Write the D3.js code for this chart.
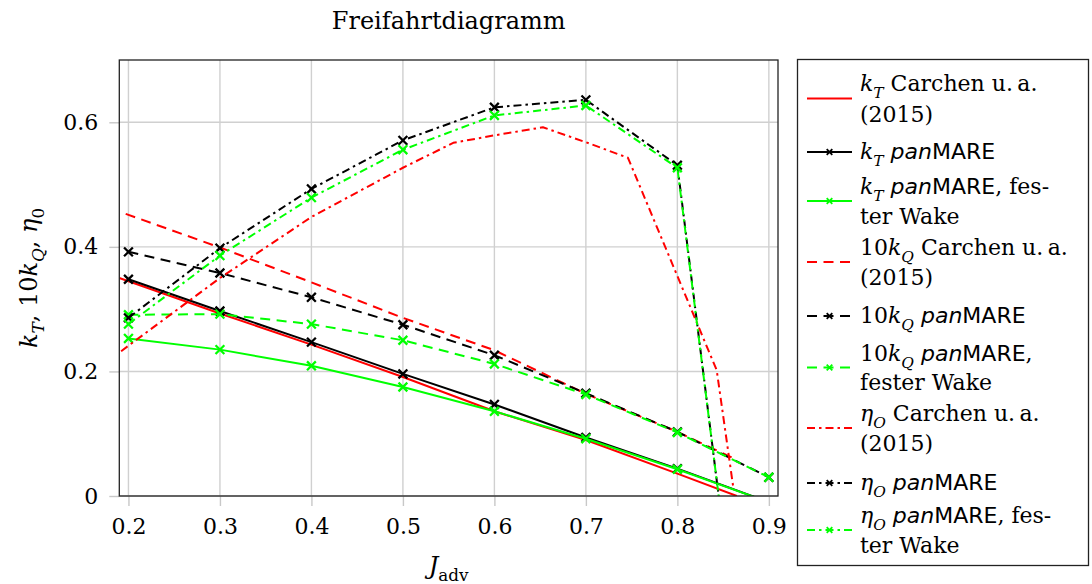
<!DOCTYPE html>
<html>
<head>
<meta charset="utf-8">
<script src="https://cdn.jsdelivr.net/npm/d3@7"></script>
<style>
  body { margin: 0; background: #fff; }
  svg { display: block; }
  .tick text { font-family: "DejaVu Serif", serif; font-size: 22px; fill: #000; }
</style>
</head>
<body>
<svg id="chart" width="1092" height="584"></svg>
<script>
// J values of the panMARE runs
var jPan = [0.2, 0.3, 0.4, 0.5, 0.6, 0.7, 0.8, 0.9];
var ktPan      = [0.348, 0.297, 0.247, 0.196, 0.147, 0.094, 0.044, -0.010];
var ktPanFix   = [0.253, 0.235, 0.209, 0.175, 0.136, 0.092, 0.043, -0.010];
var kqPan      = [0.392, 0.358, 0.319, 0.275, 0.226, 0.165, 0.103, 0.030];
var kqPanFix   = [0.291, 0.292, 0.276, 0.250, 0.212, 0.163, 0.102, 0.030];
var etaPan     = [0.286, 0.398, 0.493, 0.571, 0.624, 0.636, 0.531, -0.645];
var etaPanFix  = [0.276, 0.386, 0.479, 0.556, 0.611, 0.627, 0.527, -0.640];

// Carchen u. a. (2015)
var jKtCarchen  = [0.19, 0.3, 0.4, 0.5, 0.6, 0.7, 0.8, 0.865];
var ktCarchen   = [0.350, 0.293, 0.243, 0.191, 0.136, 0.090, 0.036, 0.0];
var jKqCarchen  = [0.197, 0.3, 0.4, 0.5, 0.6, 0.7, 0.8, 0.865];
var kqCarchen   = [0.453, 0.399, 0.343, 0.286, 0.234, 0.164, 0.103, 0.058];
var jEtaCarchen = [0.192, 0.3, 0.4, 0.5, 0.555, 0.6, 0.653, 0.7, 0.746, 0.843, 0.861];
var etaCarchen  = [0.2325, 0.350, 0.448, 0.527, 0.567, 0.579, 0.592, 0.568, 0.543, 0.202, 0.015];

var xTicks = [0.2, 0.3, 0.4, 0.5, 0.6, 0.7, 0.8, 0.9];
var yTicks = [0, 0.2, 0.4, 0.6];

var titleText = "Freifahrtdiagramm";

// text pieces: i = math italic, r = roman, sub = italic subscript, subr = roman subscript, s = sans, si = sans italic
var legendLabels = [
  [[["i","k"],["sub","T"],["r"," Carchen u.\u2009a."]], [["r","(2015)"]]],
  [[["i","k"],["sub","T"],["r"," "],["si","pan"],["s","MARE"]]],
  [[["i","k"],["sub","T"],["r"," "],["si","pan"],["s","MARE"],["r",", fes-"]], [["r","ter Wake"]]],
  [[["r","10"],["i","k"],["sub","Q"],["r"," Carchen u.\u2009a."]], [["r","(2015)"]]],
  [[["r","10"],["i","k"],["sub","Q"],["r"," "],["si","pan"],["s","MARE"]]],
  [[["r","10"],["i","k"],["sub","Q"],["r"," "],["si","pan"],["s","MARE"],["r",","]], [["r","fester Wake"]]],
  [[["i","\u03b7"],["sub","O"],["r"," Carchen u.\u2009a."]], [["r","(2015)"]]],
  [[["i","\u03b7"],["sub","O"],["r"," "],["si","pan"],["s","MARE"]]],
  [[["i","\u03b7"],["sub","O"],["r"," "],["si","pan"],["s","MARE"],["r",", fes-"]], [["r","ter Wake"]]]
];

var dashed = "10,6.5";
var dashdot = "8,4,2.5,4";

var series = [
  {j: jKtCarchen,  v: ktCarchen,  color: "#ff0000", dash: null,    mark: false},
  {j: jPan,        v: ktPan,      color: "#000000", dash: null,    mark: true},
  {j: jPan,        v: ktPanFix,   color: "#00ff00", dash: null,    mark: true},
  {j: jKqCarchen,  v: kqCarchen,  color: "#ff0000", dash: dashed,  mark: false},
  {j: jPan,        v: kqPan,      color: "#000000", dash: dashed,  mark: true},
  {j: jPan,        v: kqPanFix,   color: "#00ff00", dash: dashed,  mark: true},
  {j: jEtaCarchen, v: etaCarchen, color: "#ff0000", dash: dashdot, mark: false},
  {j: jPan,        v: etaPan,     color: "#000000", dash: dashdot, mark: true},
  {j: jPan,        v: etaPanFix,  color: "#00ff00", dash: dashdot, mark: true}
];

var plotL = 119.3, plotR = 778, plotT = 60, plotB = 496;

var x = d3.scaleLinear().domain([0.19, 0.91]).range([plotL, plotR]);
var y = d3.scaleLinear().domain([0, 0.7]).range([plotB, plotT]);

var svg = d3.select("#chart");

var serif = "'DejaVu Serif', serif";
var sans = "'DejaVu Sans', sans-serif";

// writes a list of pieces into a text element
function writeRich(textSel, pieces, size) {
  var shift = 0;
  pieces.forEach(function(p) {
    var kind = p[0];
    var t = textSel.append("tspan").text(p[1]);
    var isSub = (kind === "sub" || kind === "subr");
    var target = isSub ? size * 0.3 : 0;
    if (target !== shift) { t.attr("dy", target - shift); shift = target; }
    t.attr("font-size", isSub ? size * 0.7 : size);
    if (kind === "s" || kind === "si") t.attr("font-family", sans);
    else t.attr("font-family", serif);
    if (kind === "i" || kind === "sub" || kind === "si") t.attr("font-style", "italic");
  });
}

// grid
var grid = svg.append("g").attr("stroke", "#d0d0d0").attr("stroke-width", 1.4);
grid.selectAll(".gx").data(xTicks).enter().append("line")
  .attr("x1", function(d) { return x(d); }).attr("x2", function(d) { return x(d); })
  .attr("y1", plotT).attr("y2", plotB);
grid.selectAll(".gy").data(yTicks).enter().append("line")
  .attr("x1", plotL).attr("x2", plotR)
  .attr("y1", function(d) { return y(d); }).attr("y2", function(d) { return y(d); });

// axes
var xAxis = svg.append("g").attr("transform", "translate(0," + plotB + ")")
  .call(d3.axisBottom(x).tickValues(xTicks).tickSize(10).tickSizeOuter(0).tickPadding(12).tickFormat(d3.format("")));
var yAxis = svg.append("g").attr("transform", "translate(" + plotL + ",0)")
  .call(d3.axisLeft(y).tickValues(yTicks).tickSize(10).tickSizeOuter(0).tickPadding(11).tickFormat(d3.format("")));
[xAxis, yAxis].forEach(function(a) {
  a.select(".domain").remove();
  a.selectAll(".tick line").attr("stroke", "#c8c8c8").attr("stroke-width", 1.4);
  a.attr("font-family", null).attr("font-size", null);
});

// clip
svg.append("clipPath").attr("id", "clip").append("rect")
  .attr("x", plotL).attr("y", plotT).attr("width", plotR - plotL).attr("height", plotB - plotT);

var plot = svg.append("g").attr("clip-path", "url(#clip)");

function xMark(g, cx, cy, r, color, w) {
  g.append("path")
    .attr("d", "M" + (cx - r) + "," + (cy - r) + "L" + (cx + r) + "," + (cy + r) +
               "M" + (cx - r) + "," + (cy + r) + "L" + (cx + r) + "," + (cy - r))
    .attr("stroke", color).attr("stroke-width", w).attr("fill", "none");
}

series.forEach(function(s) {
  var pts = s.j.map(function(j, i) { return [j, s.v[i]]; });
  var line = d3.line().x(function(d) { return x(d[0]); }).y(function(d) { return y(d[1]); });
  plot.append("path").datum(pts)
    .attr("d", line)
    .attr("fill", "none")
    .attr("stroke", s.color)
    .attr("stroke-width", 2)
    .attr("stroke-linejoin", "round")
    .attr("stroke-dasharray", s.dash);
  if (s.mark) {
    pts.forEach(function(d) {
      if (d[1] >= 0) xMark(plot, x(d[0]), y(d[1]), 4.4, s.color, 2.3);
    });
  }
});

// frame
svg.append("rect")
  .attr("x", plotL).attr("y", plotT).attr("width", plotR - plotL).attr("height", plotB - plotT)
  .attr("fill", "none").attr("stroke", "#222").attr("stroke-width", 1.3);

// title
svg.append("text").attr("x", (plotL + plotR) / 2).attr("y", 29)
  .attr("text-anchor", "middle").attr("font-family", serif).attr("font-size", 24)
  .text(titleText);

// axis labels
var xl = svg.append("text").attr("x", (plotL + plotR) / 2).attr("y", 574).attr("text-anchor", "middle");
writeRich(xl, [["i","J"],["subr","adv"]], 24);

var yl = svg.append("text").attr("transform", "translate(37," + ((plotT + plotB) / 2) + ") rotate(-90)")
  .attr("text-anchor", "middle");
writeRich(yl, [["i","k"],["sub","T"],["r",", 10"],["i","k"],["sub","Q"],["r",", "],["i","\u03b7"],["subr","0"]], 24);

// legend
var leg = svg.append("g");
leg.append("rect").attr("x", 797.5).attr("y", 59.5).attr("width", 291).attr("height", 506)
  .attr("fill", "#fff").attr("stroke", "#222").attr("stroke-width", 1.3);

var lineRows = [[83, 114], [151], [186, 216], [247, 277], [315], [353, 382], [413, 443], [482], [515, 545]];

legendLabels.forEach(function(lbl, i) {
  var s = series[i];
  var rows = lineRows[i];
  var sy = (rows[0] + rows[rows.length - 1]) / 2 + (rows.length > 1 ? 0 : 1);
  leg.append("line").attr("x1", 807).attr("x2", 852).attr("y1", sy).attr("y2", sy)
    .attr("stroke", s.color).attr("stroke-width", 2).attr("stroke-dasharray", s.dash);
  if (s.mark) xMark(leg, 829.5, sy, 2.8, s.color, 1.8);
  lbl.forEach(function(pieces, k) {
    var t = leg.append("text").attr("x", 860).attr("y", rows[k] + 8);
    writeRich(t, pieces, 22);
  });
});
</script>
</body>
</html>
